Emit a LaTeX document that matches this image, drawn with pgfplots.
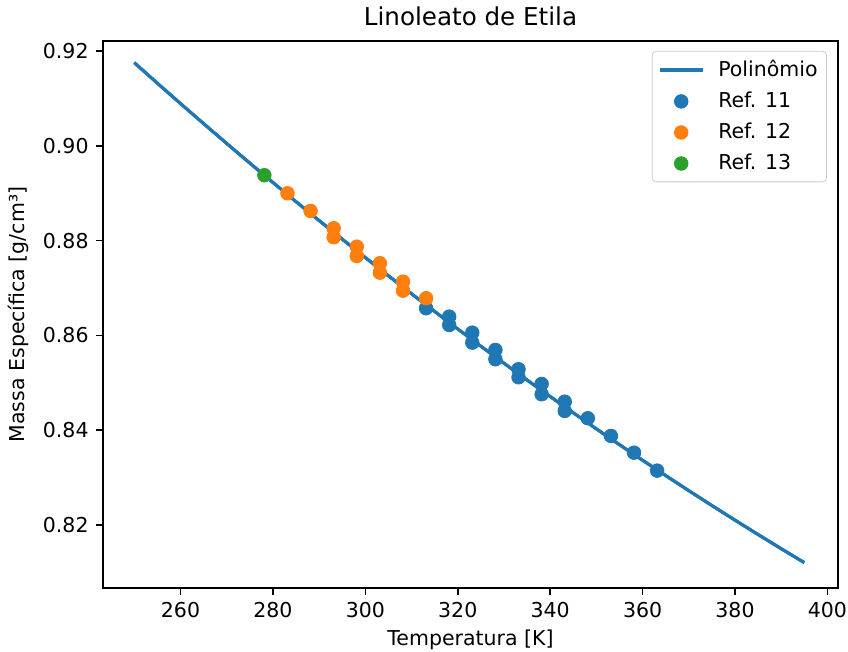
\documentclass[border=0pt]{standalone}
\usepackage{fontspec}
\setmainfont{DejaVu Sans}
\usepackage{pgfplots}
\pgfplotsset{compat=1.18}
\definecolor{tabblue}{HTML}{1F77B4}
\definecolor{taborange}{HTML}{FF7F0E}
\definecolor{tabgreen}{HTML}{2CA02C}
\definecolor{leggray}{HTML}{CCCCCC}
\begin{document}
\fontsize{10.25}{12.3}\selectfont
\begin{tikzpicture}
\begin{axis}[
  at={(0,0)}, anchor=south west,
  scale only axis, width=367.5pt, height=273.5pt,
  xmin=243.23, xmax=402.29, ymin=0.8067, ymax=0.9221,
  xtick={260,280,300,320,340,360,380,400},
  ytick={0.82,0.84,0.86,0.88,0.90,0.92},
  yticklabel style={/pgf/number format/.cd, fixed, fixed zerofill, precision=2},
  /pgf/number format/assume math mode=true,
  tick align=outside, xtick pos=left, ytick pos=left,
  major tick length=3.6pt,
  axis line style={line width=0.8pt},
  every tick/.style={black, line width=0.8pt},
  tick label style={font=\fontsize{10.25}{12}\selectfont},
  label style={font=\fontsize{10.25}{12}\selectfont},
  xlabel={Temperatura [K]},
  xlabel style={yshift=1pt},
  ylabel={Massa Específica [g/cm³]},
  title={Linoleato de Etila},
  title style={font=\fontsize{12.3}{14}\selectfont, yshift=-2pt},
  legend cell align=left,
  legend style={at={(0.985,0.982)}, anchor=north east, draw=leggray, rounded corners=2pt,
    font=\fontsize{10.25}{12}\selectfont, row sep=3.2pt, column sep=5.5pt, inner sep=3pt,
    nodes={inner sep=1.5pt}},
  legend image code/.code={\draw[mark repeat=2,mark phase=2,#1] plot coordinates {(0pt,0pt)(10.75pt,0pt)(21.5pt,0pt)};},
]
\addplot[tabblue, line width=1.55pt] coordinates {
(250,0.91753)(255,0.91319)(260,0.90890)(265,0.90467)(270,0.90048)(275,0.89634)
(280,0.89225)(285,0.88821)(290,0.88422)(295,0.88029)(300,0.87640)(305,0.87256)
(310,0.86877)(315,0.86504)(320,0.86135)(325,0.85771)(330,0.85412)(335,0.85058)
(340,0.84710)(345,0.84366)(350,0.84027)(355,0.83694)(360,0.83365)(365,0.83042)
(370,0.82723)(375,0.82410)(380,0.82101)(385,0.81798)(390,0.81499)(395,0.81205)};
\addlegendentry{Polinômio}
\addplot[only marks, mark=*, mark size=3.4pt, mark options={draw=tabblue, fill=tabblue}] coordinates {
(313.15,0.86572)(318.15,0.86395)(318.15,0.86219)(323.15,0.86057)(323.15,0.85846)
(328.15,0.85692)(328.15,0.85496)(333.15,0.85285)(333.15,0.85116)(338.15,0.84975)
(338.15,0.84757)(343.15,0.84601)(343.15,0.84405)(348.15,0.84251)(353.15,0.83878)
(358.15,0.83525)(363.15,0.83146)};
\addlegendentry{Ref. 11}
\addplot[only marks, mark=*, mark size=3.4pt, mark options={draw=taborange, fill=taborange}] coordinates {
(283.15,0.88998)(288.15,0.88624)(293.15,0.88259)(293.15,0.88070)(298.15,0.87871)
(298.15,0.87675)(303.15,0.87521)(303.15,0.87323)(308.15,0.87133)(308.15,0.86943)
(313.15,0.86783)};
\addlegendentry{Ref. 12}
\addplot[only marks, mark=*, mark size=3.4pt, mark options={draw=tabgreen, fill=tabgreen}] coordinates {
(278.15,0.89378)};
\addlegendentry{Ref. 13}
\addplot[tabblue, line width=1.55pt, forget plot] coordinates {
(250,0.91753)(255,0.91319)(260,0.90890)(265,0.90467)(270,0.90048)(275,0.89634)
(280,0.89225)(285,0.88821)(290,0.88422)(295,0.88029)(300,0.87640)(305,0.87256)
(310,0.86877)(315,0.86504)(320,0.86135)(325,0.85771)(330,0.85412)(335,0.85058)
(340,0.84710)(345,0.84366)(350,0.84027)(355,0.83694)(360,0.83365)(365,0.83042)
(370,0.82723)(375,0.82410)(380,0.82101)(385,0.81798)(390,0.81499)(395,0.81205)};
\end{axis}
\pgfresetboundingbox
\path (-51.5pt,-32pt) rectangle (372.5pt,294pt);
\end{tikzpicture}
\end{document}
